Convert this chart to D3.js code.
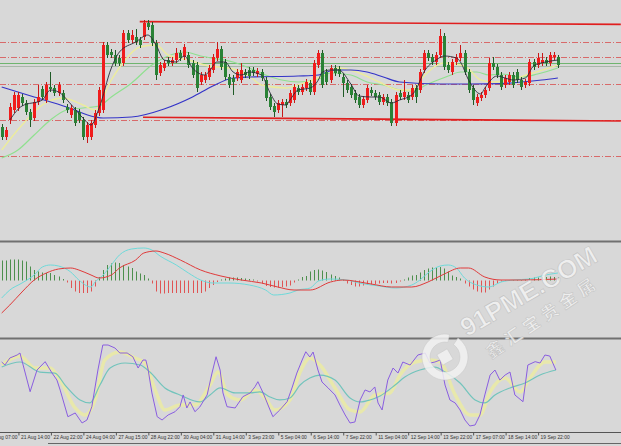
<!DOCTYPE html>
<html><head><meta charset="utf-8">
<script src="https://cdn.jsdelivr.net/npm/d3@7"></script>
<style>html,body{margin:0;padding:0;background:#d8d8d8;overflow:hidden}svg{display:block}</style>
</head><body>
<svg id="c" width="621" height="446"></svg>
<script>
// ---------- DATA ----------
// candles [open, high, low, close]
const ohlc = [
[1188.25,1189,1185,1185.75],[1185.75,1188.25,1185,1187.5],[1190,1194.25,1189,1193.25],[1192.5,1197,1191.75,1196.25],
[1193,1197,1192.25,1196.25],[1195.75,1196.5,1193.5,1194.25],[1194.25,1195,1191.25,1192],[1192,1192.75,1188.25,1190],
[1190.5,1195.25,1189.75,1194.5],[1194.5,1198.75,1193.75,1195.75],[1197.75,1198.5,1195,1195.75],[1195,1199.5,1194.25,1198.75],
[1198.25,1202,1197,1197.75],[1198,1198.75,1196,1196.75],[1196.75,1199.5,1196,1198.75],[1196.75,1197.5,1194.25,1195],
[1193.25,1194,1191.75,1192.5],[1191.25,1193.75,1190.5,1193],[1192.5,1193.25,1188.5,1189.25],[1192,1192.75,1189.25,1190],
[1190,1190.75,1185,1185.75],[1185.75,1189.5,1184.25,1188.75],[1185.75,1190,1185,1189.25],[1188.75,1192.5,1188,1191.75],
[1191.75,1198.25,1191,1197.5],[1192.5,1209.5,1191.75,1208.75],[1208.75,1209.5,1205.5,1206.25],[1207,1207.75,1205.5,1206.25],
[1206.25,1207.5,1203.5,1204.25],[1205.5,1206.25,1203.5,1204.25],[1204.25,1212.5,1203.5,1211.75],[1211.75,1212.5,1209.25,1210],
[1210,1212.5,1209.25,1211.25],[1210.75,1212.75,1208.75,1209.5],[1210,1210.75,1208,1208.75],[1210.75,1215,1210,1214.25],
[1214.25,1215,1212.5,1213.25],[1213.75,1214.5,1208.5,1209.25],[1209.25,1210,1200,1201.25],[1201.75,1204.5,1201,1203.75],
[1203,1205,1202.25,1204.25],[1205,1205.75,1203.5,1204.25],[1204.25,1205.75,1203.5,1205],[1205,1208,1204.25,1206.75],
[1206.75,1207.5,1204.75,1205.5],[1205.75,1209,1205,1208.25],[1206.25,1207,1203,1203.75],[1204.25,1205,1200.5,1201.25],
[1203.75,1204.5,1197,1198],[1199.5,1202,1198.75,1201.25],[1200,1202,1199.25,1201.25],[1200.75,1203.75,1200,1203],
[1202.5,1206.5,1201.75,1205.75],[1205.5,1209.5,1204.75,1207.75],[1207.75,1208.5,1202.5,1203.25],[1204.5,1205.25,1200,1200.75],
[1200.75,1201.5,1198,1198.75],[1200.5,1201.25,1196.25,1199.5],[1200.5,1202.75,1199.75,1202],[1200,1204.25,1199.25,1202.5],
[1202,1202.75,1200.5,1201.25],[1202.5,1203.25,1200.25,1201],[1202.5,1203.25,1201,1201.75],[1201.5,1203,1200.75,1202.25],
[1202,1202.75,1199.75,1200.5],[1200,1200.75,1194.75,1195.5],[1195.75,1196.5,1192.5,1193.25],[1193.5,1194.25,1190.75,1192],
[1192.5,1195,1191.75,1194.25],[1193.75,1195.25,1190.75,1194.5],[1194.5,1195.25,1193,1193.75],[1194.25,1197.5,1193.5,1196.75],
[1195,1199,1194.25,1198.25],[1198,1198.75,1196.25,1197],[1197,1199,1196.25,1198.25],[1198,1200.25,1197.25,1199.5],
[1199.25,1200,1196.25,1197],[1197,1205,1196.25,1204.25],[1203.75,1207.5,1203,1206.75],[1206.75,1207.5,1198,1198.75],
[1202,1202.75,1198.75,1199.5],[1200,1203.75,1199.25,1203],[1203,1203.75,1201,1201.75],[1202.75,1203.5,1200.75,1201.5],
[1200.75,1201.5,1195.75,1199.25],[1199.25,1200,1196.75,1197.5],[1198.25,1199,1195.5,1196.25],[1196.75,1197.5,1194.25,1195],
[1195.75,1196.5,1193,1193.75],[1193.75,1196,1193,1195.25],[1195,1198.75,1194.25,1198],[1197.5,1198.25,1196,1196.75],
[1196.75,1197.5,1195,1195.75],[1196.25,1197,1193.75,1194.5],[1194.5,1196.5,1193.75,1195.75],[1195.75,1196.5,1193.5,1194.25],
[1194.5,1195.25,1188.5,1189.25],[1189.25,1197,1188.5,1196.25],[1196.75,1197.5,1195,1195.75],[1195.75,1200,1195,1197],
[1196.25,1197,1194.25,1195],[1195.75,1198.75,1195,1198],[1198,1198.75,1194.25,1195.75],[1197.5,1202.75,1196.75,1202],
[1202.5,1207.5,1201.75,1206.75],[1206.75,1207.5,1204.75,1205.5],[1205.75,1206.5,1203.75,1204.5],[1204.5,1207,1203.75,1206.25],
[1206.25,1212.75,1205.5,1211],[1211,1211.75,1202.5,1203.25],[1203.75,1204.5,1201.75,1202.5],[1202,1205.25,1201.25,1204.5],
[1204.5,1206.5,1203.75,1205.75],[1205.5,1208.75,1204.75,1206.75],[1206.75,1207.5,1201.25,1202],[1202,1202.75,1196.75,1197.5],
[1198,1198.75,1193.75,1195],[1194.25,1196.5,1193.5,1195.75],[1195.5,1197,1194.75,1196.25],[1196.25,1198.25,1195.5,1197.5],
[1198,1205.5,1197.25,1204.25],[1204.25,1205.75,1202.5,1203.25],[1203.25,1204,1200.5,1201.25],[1201.25,1202,1197.5,1198.25],
[1198.75,1201.25,1198,1200.5],[1199.5,1202,1198.75,1201.25],[1201.25,1202,1198,1198.75],[1202,1202.75,1199.25,1200],
[1200,1200.75,1197.5,1198.25],[1198.75,1200.25,1198,1199.5],[1199.25,1205.25,1198.5,1204.5],[1204.5,1205.25,1202.5,1203.25],
[1203.75,1206.75,1203,1205.5],[1204.25,1206.75,1203.5,1205],[1205,1205.75,1203.5,1204.25],[1204.25,1207,1203.5,1206.25],
[1205.75,1207,1205,1206.25],[1205.75,1206.25,1203,1203.75]
];
// moving averages: [bar index, price]
const maBlack = [[2,1190],[5,1193.5],[10,1195],[12,1197.5],[14,1197],[17,1194],[20,1190.5],[22,1188.75],[24,1193],[27,1203],[29,1207],[33,1209.5],[36,1211.25],[38,1208.75],[40,1205],[43,1204.5],[45,1206],[47,1203],[50,1201.25],[51,1202],[53,1204.5],[55,1204.5],[57,1202],[59,1201.25],[61,1202],[64,1201.25],[66,1197],[68,1194],[70,1193.75],[71,1195],[73,1197.5],[76,1198],[78,1200],[79,1202],[81,1202.5],[83,1202.5],[86,1199],[88,1196],[91,1195.75],[93,1195.75],[96,1194.25],[98,1195],[101,1196.25],[102,1197.5],[104,1202],[107,1205],[109,1206],[112,1205.5],[113,1204.5],[115,1200],[118,1196.5],[119,1198],[122,1201],[124,1200.5],[126,1200],[129,1200.5],[131,1203.5],[134,1204.5],[137,1205]];
const maYellow = [[0,1182.5],[5,1188.75],[10,1193.75],[15,1195.5],[20,1193.75],[23,1192.5],[27,1200],[30,1204.5],[34,1208.25],[38,1208.75],[41,1206.25],[46,1205],[51,1203.5],[56,1203],[61,1201],[64,1198.75],[70,1198],[73,1198.75],[78,1200.5],[83,1203],[88,1201.75],[93,1199.5],[98,1197.5],[101,1197.5],[104,1201],[109,1204.25],[114,1203.5],[118,1200],[121,1199.5],[125,1200],[130,1201.5],[137,1203.75]];
const maGreen = [[0,1180.5],[4,1182.5],[8,1186.25],[12,1190],[16,1192.5],[20,1193],[24,1193.5],[27,1195.75],[32,1199.25],[37,1203.75],[41,1206],[45,1207],[49,1206],[57,1204.5],[61,1203],[65,1201.25],[69,1200],[73,1199.5],[78,1200.25],[81,1201.75],[86,1201.25],[90,1199.5],[94,1198.75],[98,1197.5],[101,1197.25],[105,1199],[110,1201],[113,1202],[117,1202],[120,1201.25],[123,1201.5],[128,1200.75],[132,1201.5],[137,1203]];
const maBlue = [[0,1198.25],[8,1195.75],[16,1193.25],[23,1190.75],[25,1190.5],[32,1190.75],[40,1192.75],[47,1195.75],[52,1198.5],[57,1200.5],[61,1200.75],[73,1201],[78,1201.25],[82,1202.5],[86,1202.5],[90,1202],[94,1200.75],[98,1199.5],[108,1199],[115,1199],[123,1199.1],[128,1199.5],[133,1200],[137,1200.5]];
// horizontal levels and trend lines
const dashLevels = [1209.6, 1205.75, 1198.9, 1190, 1181.1];
const greenLevels = [1204.35, 1203.6];
const trendLines = [[[34,1214.6],[152.5,1213.9]], [[34.8,1190.7],[152.5,1189.75]]];
// MACD histogram per bar
const macdHist = [2.0,2.0,2.1,2.1,2.1,2.0,1.9,1.4,1.05,0.9,0.8,0.75,0.75,0.55,0.4,0.15,-0.2,-0.75,-1.1,-1.25,-1.25,-1.25,-1.1,-0.6,0.35,1.05,1.55,1.7,1.8,1.75,1.55,1.4,1.25,0.9,0.7,0.55,0.2,-0.3,-1.1,-1.3,-1.3,-1.25,-1.25,-1.25,-1.25,-1.25,-1.25,-1.25,-1.25,-1.25,-1.1,-0.75,-0.45,-0.15,0.1,0.2,0.3,0.3,0.3,0.25,0.2,0.15,0.1,-0.1,-0.3,-0.55,-0.65,-0.7,-0.7,-0.65,-0.6,-0.5,-0.2,0.1,0.35,0.45,0.9,1.05,1.1,1.0,0.85,0.6,0.45,0.3,0.1,-0.3,-0.45,-0.6,-0.6,-0.5,-0.45,-0.4,-0.35,-0.3,-0.25,-0.25,-0.3,-0.25,-0.1,0.1,0.3,0.5,0.55,0.8,1.05,1.2,1.3,1.3,1.35,1.2,0.9,0.5,0.35,0.2,-0.3,-0.6,-0.9,-1.1,-1.2,-1.2,-0.9,-0.6,-0.3,-0.1,-0.05,0.05,0.05,0.05,0.05,0.1,0.25,0.3,0.3,0.35,0.35,0.4,0.35,0.3];
const macdMain = [[0,-1.75],[2,-0.95],[5,-0.25],[8,0.55],[10,1.35],[12,1.55],[14,1.45],[17,0.85],[19,0.05],[22,-0.65],[23,-0.15],[25,0.55],[27,1.55],[29,2.55],[32,3.15],[35,3.25],[37,3.05],[39,2.45],[43,1.55],[46,0.75],[49,0.05],[52,-0.25],[56,-0.25],[61,-0.45],[65,-0.95],[67,-1.45],[71,-1.25],[73,-0.95],[76,-0.75],[78,-0.05],[81,0.15],[85,0.05],[88,-0.25],[93,-0.55],[97,-0.75],[101,-0.45],[103,0.05],[105,0.75],[108,1.45],[110,1.55],[112,1.25],[114,0.25],[117,-0.45],[120,-0.65],[123,-0.15],[126,0.05],[130,0.15],[134,0.55],[137,0.75]];
const macdSignal = [[0,-3.25],[2,-2.45],[5,-1.15],[8,0.05],[11,0.75],[14,1.15],[17,1.25],[19,1.05],[22,0.55],[24,0.25],[27,0.55],[29,1.25],[33,2.05],[35,2.75],[38,2.95],[40,2.75],[44,2.05],[49,1.05],[54,0.45],[59,0.05],[64,-0.25],[68,-0.65],[72,-0.95],[76,-0.95],[81,-0.15],[84,0.05],[91,-0.35],[96,-0.65],[101,-0.65],[105,-0.15],[109,0.65],[113,1.25],[115,1.25],[119,0.35],[123,0.05],[128,0.05],[137,0.15]];
// Stochastic
const stochK = [[0,75.8],[0.8,72.5],[2,80.2],[3.8,83.5],[4.5,85.7],[7,43.2],[8.7,67],[10.7,76.2],[12.4,63.7],[13.6,56],[14.4,45],[16.3,15.7],[18.1,19.8],[19.8,8.8],[21,12.1],[22.2,26.7],[23.7,67],[24.9,94.5],[26.2,94.5],[27.9,91.2],[29.1,85.7],[30.9,85.7],[32.3,81.6],[33.6,69.2],[34.8,78],[35.5,78],[36,69.2],[37,41.8],[38.3,15.7],[39.5,12.1],[41,17.6],[42.7,21.2],[43.9,26.7],[44.7,39.6],[45.6,25.3],[46.4,31.9],[47.6,21.2],[48.8,26.4],[50.6,39.6],[51.8,63.7],[52.8,81.6],[53.8,67],[54.5,41.8],[55.5,26.7],[57.5,25.3],[59.4,37.7],[61.2,41.8],[62.4,48.7],[63.1,54.2],[64.4,41.8],[66.1,23.1],[66.8,15.7],[68.5,23.1],[70.3,32.2],[71.5,47.3],[72.7,63.7],[74,78],[74.9,87.1],[75.9,81.3],[76.7,86.8],[77.9,67],[78.9,53.8],[80.4,47.3],[82.1,39.6],[83.3,28.6],[84.6,17.6],[85.8,8.8],[87,9.9],[88.3,34.1],[89.5,45.1],[90.7,42.9],[91.9,48.4],[92.7,30.8],[93.7,23.1],[95.1,56],[96.4,69.2],[97.6,63.7],[98.8,75.8],[100.6,72.5],[102.5,83.5],[104.3,85.7],[105.5,74.7],[106.7,75.8],[108,78],[109.2,50.5],[110.4,34.1],[111.7,30.8],[112.9,23.1],[114.1,12.1],[115.3,5.5],[116.6,6.6],[117.8,17.6],[119,39.6],[120.3,61.5],[121.5,67],[122.7,56],[124,61.5],[125.2,64.8],[126.4,39.6],[128.4,32.2],[129.6,72.5],[131.4,76.2],[132.6,74.7],[133.8,83.5],[135,82.4],[136.5,67]];
const stochD = [[0,72.5],[4.5,82.4],[8.2,69.2],[11.9,69.2],[14.4,56],[18.1,25.3],[20.5,17.6],[23,34.1],[25.4,78],[29.1,86.8],[32.8,80.2],[35.3,74.7],[37.8,45.1],[40.2,23.1],[43.9,28.6],[47.6,28.6],[51.3,50.5],[53.3,64.8],[55.7,39.6],[58.7,34.1],[62.4,45.1],[64.9,36.3],[67.3,23.1],[71,34.1],[73.5,64.8],[75.9,80.2],[78.4,72.5],[82.1,47.3],[85.8,23.1],[88.3,20.9],[91.9,39.6],[95.6,41.8],[98.1,61.5],[101.8,75.8],[105.5,78],[108,75.8],[111.7,39.6],[115.3,17.6],[117.8,17.6],[120.3,42.9],[124,58.2],[127.7,42.9],[130.1,58.2],[133.8,75.8],[136.5,75.8]];
const stochSlow = [[0,70.3],[4.5,75.8],[9.4,64.8],[13.1,63.7],[15.6,50.5],[19.3,34.1],[21.7,30.8],[24.2,50.5],[26.7,69.2],[30.4,74.7],[34.1,72.5],[36.5,64.8],[40.2,47.3],[43.9,39.6],[48.8,31.9],[51.3,39.6],[53.8,47.3],[57.5,41.8],[61.2,41.8],[63.6,42.9],[66.1,37.4],[68.5,34.1],[71,36.3],[73.5,50.5],[75.9,58.2],[78.4,61.5],[82.1,56],[85.8,36.3],[88.3,31.9],[90.7,34.1],[93.2,38.5],[96.9,50.5],[99.3,59.3],[103,67],[106.7,70.3],[109.2,64.8],[112.9,52.7],[116.6,34.1],[119,30.8],[121.5,39.6],[125.2,47.3],[128.9,52.7],[132.6,61.5],[136.5,67]];
// time axis
const timeLabels = ['20 Aug 07:00','21 Aug 14:00','22 Aug 22:00','24 Aug 04:00','27 Aug 15:00','28 Aug 22:00','30 Aug 04:00','31 Aug 14:00','3 Sep 23:00','5 Sep 04:00','6 Sep 14:00','7 Sep 22:00','11 Sep 04:00','12 Sep 14:00','13 Sep 22:00','17 Sep 07:00','18 Sep 14:00','19 Sep 22:00'];
const timeBars = [-4,4,12,20,28,36,44,52,60,68,76,84,92,100,108,116,124,132];

// ---------- SCALES ----------
const W = 621, H = 446;
const svg = d3.select('#c');
const x = d3.scaleLinear().domain([0,137]).range([1.7,557.9]);
const yMain = d3.scaleLinear().domain([1160,1220]).range([240,0]);
const yMacd = d3.scaleLinear().domain([-5.75,3.85]).range([338,242]);
const ySto = d3.scaleLinear().domain([0,100]).range([431,340]);
const px = i => Math.round(x(i));

svg.append('rect').attr('width',W).attr('height',H).attr('fill','#d8d8d8');
const defs = svg.append('defs');
[['cMain',0,240],['cMacd',243,95],['cSto',340,92]].forEach(([id,y0,h])=>{
  defs.append('clipPath').attr('id',id).append('rect').attr('x',0).attr('y',y0).attr('width',W).attr('height',h);
});

// ---------- MAIN PANEL ----------
const gm = svg.append('g').attr('clip-path','url(#cMain)');
gm.selectAll('line.lvl').data(dashLevels).join('line')
  .attr('x1',0).attr('x2',W).attr('y1',d=>Math.round(yMain(d))+0.5).attr('y2',d=>Math.round(yMain(d))+0.5)
  .attr('stroke','#d86a6a').attr('stroke-width',1).attr('stroke-dasharray','6,2,1,2');
gm.selectAll('line.glvl').data(greenLevels).join('line')
  .attr('x1',0).attr('x2',W).attr('y1',d=>Math.round(yMain(d))+0.5).attr('y2',d=>Math.round(yMain(d))+0.5)
  .attr('stroke',(d,i)=>i===0?'#6fb56f':'#a8b8a8').attr('stroke-width',1);
gm.selectAll('line.tl').data(trendLines).join('line')
  .attr('x1',d=>x(d[0][0])).attr('y1',d=>yMain(d[0][1]))
  .attr('x2',d=>x(d[1][0])).attr('y2',d=>yMain(d[1][1]))
  .attr('stroke','#e01e1e').attr('stroke-width',1.6);

const line = (ys)=>d3.line().x(d=>x(d[0])).y(d=>ys(d[1])).curve(d3.curveMonotoneX);
gm.append('path').datum(maGreen).attr('d',line(yMain)).attr('fill','none').attr('stroke','#8fe08f').attr('stroke-width',1.2);
gm.append('path').datum(maYellow).attr('d',line(yMain)).attr('fill','none').attr('stroke','#ecec9c').attr('stroke-width',1.4);
gm.append('path').datum(maBlue).attr('d',line(yMain)).attr('fill','none').attr('stroke','#3434c8').attr('stroke-width',1.2);

const up = d=>d[3]>=d[0];
gm.selectAll('line.wick').data(ohlc).join('line')
  .attr('x1',(d,i)=>px(i)+0.5).attr('x2',(d,i)=>px(i)+0.5)
  .attr('y1',d=>yMain(d[1])).attr('y2',d=>yMain(d[2]))
  .attr('stroke',d=>up(d)?'#c81818':'#1f5a26').attr('stroke-width',1);
gm.selectAll('rect.body').data(ohlc).join('rect')
  .attr('x',(d,i)=>px(i)-1).attr('width',3)
  .attr('y',d=>Math.round(yMain(Math.max(d[0],d[3]))))
  .attr('height',d=>Math.max(1,Math.round(yMain(Math.min(d[0],d[3])))-Math.round(yMain(Math.max(d[0],d[3])))))
  .attr('fill',d=>up(d)?'#f01c1c':'#2a8236');
gm.append('path').datum(maBlack).attr('d',line(yMain)).attr('fill','none').attr('stroke','#2a2a3a').attr('stroke-width',0.9);

// ---------- MACD PANEL ----------
const gd = svg.append('g').attr('clip-path','url(#cMacd)');
gd.selectAll('line.h').data(macdHist).join('line')
  .attr('x1',(d,i)=>px(i)+0.5).attr('x2',(d,i)=>px(i)+0.5)
  .attr('y1',yMacd(0)).attr('y2',d=>yMacd(d))
  .attr('stroke',d=>d>=0?'#4d8f4d':'#e05454').attr('stroke-width',1);
gd.append('path').datum(macdMain).attr('d',line(yMacd)).attr('fill','none').attr('stroke','#6edada').attr('stroke-width',1);
gd.append('path').datum(macdSignal).attr('d',line(yMacd)).attr('fill','none').attr('stroke','#e03a3a').attr('stroke-width',1);

// ---------- STOCH PANEL ----------
const gs = svg.append('g').attr('clip-path','url(#cSto)');
gs.append('path').datum(stochD).attr('d',line(ySto)).attr('fill','none').attr('stroke','#eaeaa6').attr('stroke-width',3.5).attr('opacity',0.9);
gs.append('path').datum(stochSlow).attr('d',line(ySto)).attr('fill','none').attr('stroke','#72c4bc').attr('stroke-width',1.2);
gs.append('path').datum(stochK).attr('d',d3.line().x(d=>x(d[0])).y(d=>ySto(d[1]))).attr('fill','none').attr('stroke','#8a5ee0').attr('stroke-width',1);

// ---------- SEPARATORS ----------
[241.5, 338.5].forEach(yy=>svg.append('line').attr('x1',0).attr('x2',W).attr('y1',yy).attr('y2',yy).attr('stroke','#707070').attr('stroke-width',2));

// ---------- TIME AXIS ----------
const ax = svg.append('g').attr('transform','translate(0.5,432.5)')
  .call(d3.axisBottom(x).tickValues(timeBars).tickFormat((d,i)=>timeLabels[i]).tickSize(3).tickSizeOuter(0));
ax.select('.domain').attr('stroke','#555').attr('d','M-1,0H'+W);
ax.selectAll('.tick line').attr('stroke','#555');
ax.selectAll('.tick text').attr('text-anchor','start').attr('x',2).attr('y',2)
  .attr('font-family','Liberation Sans, Arial, sans-serif').attr('font-size',6).attr('fill','#333')
  .attr('textLength',(d,i)=>timeLabels[i].length>=12?29:26).attr('lengthAdjust','spacingAndGlyphs');
svg.append('line').attr('x1',48).attr('x2',W).attr('y1',443.5).attr('y2',443.5).attr('stroke','#666').attr('stroke-width',1);

// ---------- WATERMARK ----------
const wm = svg.append('g').attr('opacity',0.85);
const logo = wm.append('g').attr('transform','translate(445,357)');
logo.append('path').attr('d',d3.arc()({innerRadius:15,outerRadius:23,startAngle:0.6,endAngle:2*Math.PI+0.2}))
  .attr('fill','#f2f2f2').attr('stroke','#c4c4c4').attr('stroke-width',0.5);
logo.append('rect').attr('x',-6).attr('y',-6).attr('width',12).attr('height',12).attr('transform','rotate(-30)')
  .attr('fill','#f2f2f2').attr('stroke','#c4c4c4').attr('stroke-width',0.5);
wm.append('text').attr('transform','translate(533,299) rotate(-30)').attr('text-anchor','middle')
  .attr('font-family','Liberation Sans, Arial, sans-serif').attr('font-weight','bold').attr('font-size',26)
  .attr('fill','#f2f2f2').attr('stroke','#bdbdbd').attr('stroke-width',0.6).text('91PME.COM');
wm.append('text').attr('transform','translate(546,322) rotate(-34)').attr('text-anchor','middle')
  .attr('font-family','Noto Sans CJK SC, sans-serif').attr('font-weight','bold').attr('font-size',17).attr('letter-spacing',5)
  .attr('fill','#f2f2f2').attr('stroke','#c0c0c0').attr('stroke-width',0.5).text('鑫汇宝贵金属');
</script>
</body></html>
